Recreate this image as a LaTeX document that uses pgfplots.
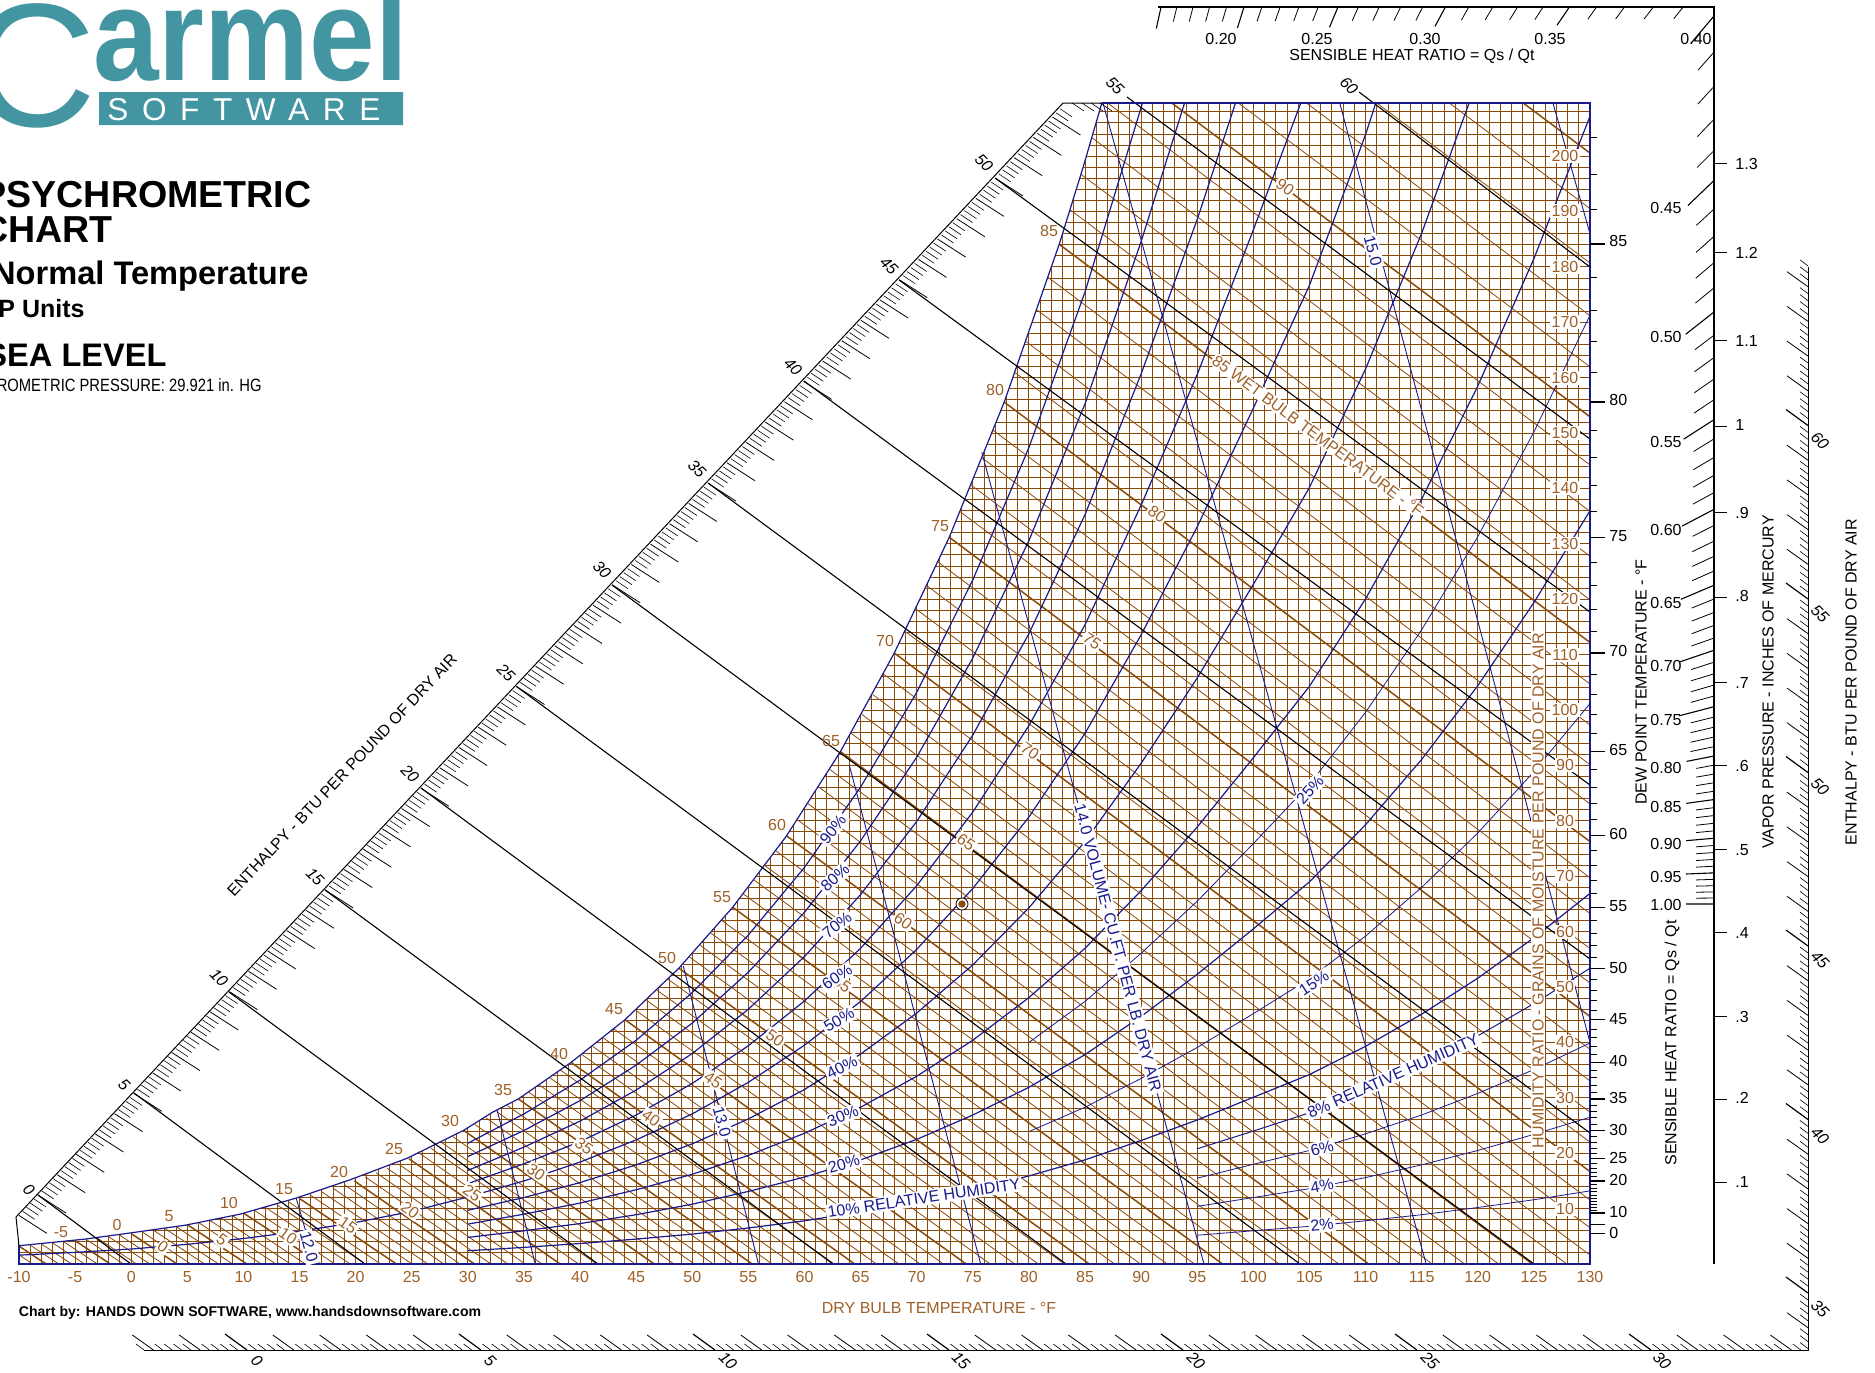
\documentclass[border=0pt]{standalone}
\usepackage{pgfplots}
\pgfplotsset{compat=1.18}
\usepackage{fontspec}
\setmainfont{Liberation Sans}
\definecolor{gridbrown}{HTML}{8A4A08}
\definecolor{labbrown}{HTML}{9E6028}
\definecolor{navy}{HTML}{1A1A8C}
\definecolor{logoteal}{HTML}{4495A2}

% tick lists for the nomogram scales, in picture pixels
\newcommand\addtick[5]{%
  \pgfmathsetmacro\ex{#1+#3}\pgfmathsetmacro\ey{#2+#4}%
  \xdef#5{#5 (#1,#2)(\ex,\ey)(#1,nan)}}
\newcommand\plotlist[2]{\edef\tmp{\noexpand\addplot[#1] coordinates {#2};}\tmp}
\gdef\tkS{}\gdef\tkM{}\gdef\tkL{}
\gdef\shrS{}\gdef\shrL{}\gdef\dewS{}\gdef\dewL{}

\begin{document}
\begin{tikzpicture}[
  lab/.style={font=\fontsize{8}{9}\selectfont,text=labbrown,fill=white,inner sep=.7pt},
  rh/.style={font=\fontsize{8}{9}\selectfont,text=navy,fill=white,inner sep=.9pt},
  blk/.style={font=\fontsize{8}{9}\selectfont,text=black,inner sep=0pt},
  enth/.style={font=\fontsize{8}{9}\selectfont\itshape,text=black,inner sep=0pt,rotate=-45}]
\useasboundingbox (0,0) rectangle (937.5pt,686pt);
\clip (0,0) rectangle (937.5pt,686pt);

% enthalpy scale: bottom and right
\foreach \i in {-11,...,323}{
  \pgfmathtruncatemacro\mf{mod(\i+1000,5)}
  \pgfmathtruncatemacro\mt{mod(\i+1000,25)}
  \ifnum\i<167
    \pgfmathsetmacro\bx{247+9.36*\i}\def\by{1350}
  \else
    \def\bx{1808}\pgfmathsetmacro\by{1293-6.94*(\i-175)}
  \fi
  \ifnum\mt=0 \addtick{\bx}{\by}{-22}{-16}{\tkL}
  \else\ifnum\mf=0 \addtick{\bx}{\by}{-21}{-15}{\tkM}
  \else \addtick{\bx}{\by}{-8}{-6}{\tkS}\fi\fi
}
% enthalpy scale: diagonal
\foreach \i in {-5,...,267}{
  \pgfmathtruncatemacro\mf{mod(\i+1000,5)}
  \pgfmathsetmacro\bx{38+3.828*\i}\pgfmathsetmacro\by{1195-4.068*\i}
  \ifnum\mf=0 \addtick{\bx}{\by}{28}{18}{\tkM}
  \else \addtick{\bx}{\by}{12}{8}{\tkS}\fi
}
\foreach \bx in {1072,1082,1091,1100}{\addtick{\bx}{103}{12}{8}{\tkS}}
% sensible heat ratio, right side
\foreach \i in {40,...,100}{
  \pgfmathtruncatemacro\mf{mod(\i,5)}
  \pgfmathsetmacro\by{904-592*((100-\i)/\i)}
  \pgfmathsetmacro\ang{atan2(904-\by,752)}
  \ifnum\i<80 \ifnum\mf=0 \def\len{36}\else\def\len{24}\fi
  \else \ifnum\mf=0 \def\len{28}\else\def\len{18}\fi\fi
  \pgfmathsetmacro\ddx{-\len*cos(\ang)}\pgfmathsetmacro\ddy{\len*sin(\ang)}
  \ifnum\mf=0 \addtick{1714}{\by}{\ddx}{\ddy}{\shrL}
  \else \addtick{1714}{\by}{\ddx}{\ddy}{\shrS}\fi
}
% sensible heat ratio, top side
\foreach \i in {15,...,39}{
  \pgfmathtruncatemacro\mf{mod(\i,5)}
  \pgfmathsetmacro\bx{962+1128*(\i/(100-\i))}
  \pgfmathsetmacro\ang{atan2(897,\bx-962)}
  \ifnum\mf=0 \def\len{22}\else\def\len{15}\fi
  \pgfmathsetmacro\ddx{-\len*cos(\ang)}\pgfmathsetmacro\ddy{\len*sin(\ang)}
  \ifnum\mf=0 \addtick{\bx}{7}{\ddx}{\ddy}{\shrL}
  \else \addtick{\bx}{7}{\ddx}{\ddy}{\shrS}\fi
}
% dew point ticks on the right edge, humidity ratio of each degree
\foreach \w in {9.67,10.17,10.69,11.24,11.82,12.4,13.01,13.65,14.31,15.72,16.48,17.28,18.11,19.92,20.9,21.9,23,25.2,26.4,27.5,28.6,31,32.3,33.6,35,37.8,39.3,40.8,42.4,45.8,47.6,49.4,51.4,55.4,57.5,59.7,62,66.8,69.3,71.9,74.6,80.2,83.1,86.1,89.3,95.8,99.2,102.8,106.5,114.2,118.2,122.4,126.7,135.8,140.6,145.5,150.5,160.9,166.5,172.2,178.1,190.3,196.7,203.3}{
  \pgfmathsetmacro\by{1264-5.54*\w}\addtick{1590}{\by}{7}{0}{\dewS}}
\foreach \w in {5.48,7.11,9.2,15,19,24.1,29.8,36.4,44.1,53.4,64.4,77.3,92.5,110.3,131.2,155.6,184.1}{
  \pgfmathsetmacro\by{1264-5.54*\w}\addtick{1590}{\by}{15}{0}{\dewL}}

% ---- chart proper: dry bulb in F, humidity ratio in grains
\begin{axis}[
  at={(9.5pt,54pt)},anchor=south west,scale only axis,
  width=785.5pt,height=580.5pt,
  xmin=-10,xmax=130,ymin=0,ymax=209.6,
  axis line style={draw=none},
  unbounded coords=jump,
  xtick={-10,-5,...,130},minor x tick num=4,
  xticklabels={-10,-5,0,5,10,15,20,25,30,35,40,45,50,55,60,65,70,75,80,85,90,95,100,105,110,115,120,125,130},
  xticklabel style={font=\fontsize{8}{9}\selectfont,text=labbrown,yshift=-.2pt},
  ytick={0,2,...,208},yticklabels={},
  major tick length=0pt,minor tick length=0pt,
  xmajorgrids,xminorgrids,ymajorgrids,
  grid style={gridbrown,line width=.5pt},
  minor grid style={gridbrown,line width=.5pt},
]
% white above the saturation curve
\addplot[fill=white,draw=none] coordinates {(-11,3.3)(-10,3.3)(-4.1,4.5)(-0.1,5.6)(4.8,7.0)(9.7,9.0)(14.7,11.9)(19.5,15.2)(24.6,19.1)(27.3,21.8)(29.6,24.1)(32.2,27.4)(34.5,29.8)(39.2,36.4)(44,44.1)(48.8,53.4)(53.6,64.4)(58.4,77.3)(63.2,92.5)(68,110.3)(72.9,131.2)(77.8,155.6)(82.7,184.1)(84.8,197.8)(86.5,209.6)(86.5,215)(-11,215)(-11,3.3)};

% wet bulb, every degree
\addplot[gridbrown,line width=.4pt] coordinates {
(-11,3.07)(-8.8,0)(0,nan)(-9,3.4)(-6.46,0)(0,nan)(-8,3.6)(-5.31,0)(0,nan)(-7,3.8)(-4.16,0)(0,nan)(-6,4)(-3.01,0)(0,nan)
(-4,4.43)(-.69,0)(0,nan)(-3,4.66)(.48,0)(0,nan)(-2,4.91)(1.66,0)(0,nan)(-1,5.17)(2.86,0)(0,nan)
(1,5.77)(5.31,0)(0,nan)(2,6.08)(6.54,0)(0,nan)(3,6.41)(7.78,0)(0,nan)(4,6.75)(9.04,0)(0,nan)
(6,7.49)(11.59,0)(0,nan)(7,7.89)(12.89,0)(0,nan)(8,8.31)(14.2,0)(0,nan)(9,8.74)(15.52,0)(0,nan)
(11,9.67)(18.16,0)(0,nan)(12,10.17)(19.51,0)(0,nan)(13,10.69)(20.86,0)(0,nan)(14,11.24)(22.23,0)(0,nan)
(16,12.4)(25.02,0)(0,nan)(17,13.01)(26.43,0)(0,nan)(18,13.65)(27.86,0)(0,nan)(19,14.31)(29.29,0)(0,nan)
(20.86,15.72)(32.06,0)(0,nan)(21.83,16.48)(33.56,0)(0,nan)(22.81,17.28)(35.11,0)(0,nan)(23.78,18.11)(36.62,0)(0,nan)
(25.74,19.92)(39.87,0)(0,nan)(26.71,20.9)(41.48,0)(0,nan)(27.69,21.9)(43.17,0)(0,nan)(28.66,23)(44.91,0)(0,nan)
(30.62,25.2)(48.37,0)(0,nan)(31.6,26.4)(50.19,0)(0,nan)(32.57,27.5)(51.87,0)(0,nan)(33.53,28.6)(53.6,0)(0,nan)
(35.44,31)(57.12,0)(0,nan)(36.38,32.3)(58.97,0)(0,nan)(37.32,33.6)(60.73,0)(0,nan)(38.26,35)(62.65,0)(0,nan)
(40.16,37.8)(66.41,0)(0,nan)(41.12,39.3)(68.41,0)(0,nan)(42.08,40.8)(70.32,0)(0,nan)(43.04,42.4)(72.38,0)(0,nan)
(44.96,45.8)(76.55,0)(0,nan)(45.92,47.6)(78.75,0)(0,nan)(46.88,49.4)(80.83,0)(0,nan)(47.84,51.4)(83.17,0)(0,nan)
(49.76,55.4)(87.63,0)(0,nan)(50.72,57.5)(89.94,0)(0,nan)(51.68,59.7)(92.32,0)(0,nan)(52.64,62)(94.76,0)(0,nan)
(54.56,66.8)(99.76,0)(0,nan)(55.52,69.3)(102.31,0)(0,nan)(56.48,71.9)(104.93,0)(0,nan)(57.44,74.6)(107.61,0)(0,nan)
(59.36,80.2)(113.11,0)(0,nan)(60.32,83.1)(115.94,0)(0,nan)(61.28,86.1)(118.83,0)(0,nan)(62.24,89.3)(121.85,0)(0,nan)
(64.16,95.8)(127.94,0)(0,nan)(65.12,99.2)(131.08,0)(0,nan)(66.08,102.8)(134.34,0)(0,nan)(67.04,106.5)(137.66,0)(0,nan)
(68.98,114.2)(144.56,0)(0,nan)(69.96,118.2)(148.13,0)(0,nan)(70.94,122.4)(151.84,0)(0,nan)(71.92,126.7)(155.61,0)(0,nan)
(73.88,135.8)(163.46,0)(0,nan)(74.86,140.6)(167.54,0)(0,nan)(75.84,145.5)(171.69,0)(0,nan)(76.82,150.5)(175.9,0)(0,nan)
(78.78,160.9)(184.64,0)(0,nan)(79.76,166.5)(189.3,0)(0,nan)(80.74,172.2)(194.03,0)(0,nan)(81.72,178.1)(198.89,0)(0,nan)
(83.68,190.3)(208.88,0)(0,nan)(84.66,196.7)(214.07,0)(0,nan)(85.64,203.3)(219.39,0)(0,nan)(86.62,210.2)(224.91,0)(0,nan)
(88.6,224.9)(236.56,0)(0,nan)(89.6,232.6)(242.63,0)(0,nan)(90.6,240.6)(248.89,0)(0,nan)(91.6,248.9)(255.35,0)(0,nan)
(93.6,266)(268.6,0)(0,nan)(94.6,275.4)(275.8,0)(0,nan)(95.6,285)(283.1,0)};
% wet bulb, every fifth degree
\addplot[gridbrown,line width=.75pt] coordinates {
(-10,3.23)(-7.59,0)(0,nan)(-5,4.21)(-1.86,0)(0,nan)(0,5.48)(4.09,0)(0,nan)(5,7.11)(10.31,0)(0,nan)(10,9.2)(16.87,0)(0,nan)
(15,11.82)(23.63,0)(0,nan)(19.88,15)(30.59,0)(0,nan)(24.76,18.99)(38.23,0)(0,nan)(29.64,24.1)(46.61,0)(0,nan)
(34.5,29.8)(55.34,0)(0,nan)(39.2,36.4)(64.48,0)(0,nan)(44,44.1)(74.41,0)(0,nan)(48.8,53.4)(85.38,0)(0,nan)
(53.6,64.4)(97.26,0)(0,nan)(58.4,77.3)(110.28,0)(0,nan)(63.2,92.5)(124.87,0)(0,nan)(68,110.3)(141.05,0)(0,nan)
(72.9,131.2)(159.5,0)(0,nan)(77.8,155.6)(180.17,0)(0,nan)(82.7,184.1)(203.82,0)(0,nan)(87.6,217.4)(230.63,0)(0,nan)
(92.6,257.4)(261.94,0)};

% saturation curve
\addplot[navy,line width=.6pt] coordinates {(-10,3.3)(-4.1,4.5)(-0.1,5.6)(4.8,7.0)(9.7,9.0)(14.7,11.9)(19.5,15.2)(24.6,19.1)(27.3,21.8)(29.6,24.1)(32.2,27.4)(34.5,29.8)(39.2,36.4)(44,44.1)(48.8,53.4)(53.6,64.4)(58.4,77.3)(63.2,92.5)(68,110.3)(72.9,131.2)(77.8,155.6)(82.7,184.1)(84.8,197.8)(86.5,209.6)};
% relative humidity
\addplot[navy,line width=.6pt] coordinates {(30,21.8)(35,27.1)(40,33.2)(45,40.4)(50,49)(55,59.4)(60,71.6)(65,86.1)(70,103.2)(75,123.5)(80,147.4)(85,175.5)(90,208.8)(95,245.5)};
\addplot[navy,line width=.6pt] coordinates {(30,19.4)(35,24.1)(40,29.5)(45,35.9)(50,43.5)(55,52.7)(60,63.5)(65,76.4)(70,91.5)(75,109.4)(80,130.6)(85,155.3)(90,184.6)(95,216.9)};
\addplot[navy,line width=.6pt] coordinates {(30,16.9)(35,21.1)(40,25.8)(45,31.4)(50,38)(55,46)(60,55.5)(65,66.7)(70,79.9)(75,95.5)(80,113.8)(85,135.3)(90,160.7)(95,188.6)(100,219.4)};
\addplot[navy,line width=.6pt] coordinates {(30,14.5)(35,18.1)(40,22.1)(45,26.9)(50,32.6)(55,39.4)(60,47.5)(65,57)(70,68.3)(75,81.6)(80,97.2)(85,115.4)(90,137)(95,160.6)(100,186.7)(105,213.8)};
\addplot[navy,line width=.6pt] coordinates {(-10,1.6)(-5,2.1)(0,2.7)(5,3.55)(10,4.6)(15,5.9)(20,7.5)(25,9.5)(30,12.1)(35,15)(40,18.4)(45,22.4)(50,27.1)(55,32.8)(60,39.5)(65,47.4)(70,56.8)(75,67.8)(80,80.7)(85,95.8)(90,113.6)(95,133.1)(100,154.5)(105,176.7)(110,203.9)(115,235.2)};
\addplot[navy,line width=.6pt] coordinates {(30,9.7)(35,12)(40,14.7)(45,17.9)(50,21.7)(55,26.2)(60,31.5)(65,37.9)(70,45.3)(75,54)(80,64.3)(85,76.3)(90,90.4)(95,105.8)(100,122.7)(105,140.2)(110,161.6)(115,186.1)(120,213.9)};
\addplot[navy,line width=.6pt] coordinates {(30,7.2)(35,9)(40,11)(45,13.4)(50,16.2)(55,19.6)(60,23.6)(65,28.3)(70,33.9)(75,40.4)(80,48.1)(85,57)(90,67.4)(95,78.9)(100,91.4)(105,104.3)(110,120.1)(115,138.1)(120,158.5)(125,181.5)(130,207.2)};
\addplot[navy,line width=.4pt] coordinates {(80,40)(85,47.4)(90,56.1)(95,65.5)(100,75.9)(105,86.6)(110,99.6)(115,114.5)(120,131.3)(125,150.2)(130,171.3)};
\addplot[navy,line width=.6pt] coordinates {(30,4.8)(35,6)(40,7.3)(45,8.9)(50,10.8)(55,13.1)(60,15.7)(65,18.8)(70,22.5)(75,26.9)(80,31.9)(85,37.8)(90,44.7)(95,52.3)(100,60.5)(105,69)(110,79.3)(115,91.1)(120,104.4)(125,119.4)(130,136)};
\addplot[navy,line width=.4pt] coordinates {(80,23.9)(85,28.3)(90,33.5)(95,39.1)(100,45.2)(105,51.5)(110,59.2)(115,68)(120,77.8)(125,88.9)(130,101.2)};
\addplot[navy,line width=.6pt] coordinates {(30,2.4)(35,3)(40,3.7)(45,4.5)(50,5.4)(55,6.5)(60,7.8)(65,9.4)(70,11.2)(75,13.4)(80,15.9)(85,18.8)(90,22.3)(95,26)(100,30.1)(105,34.2)(110,39.3)(115,45.1)(120,51.6)(125,58.9)(130,66.9)};
\addplot[navy,line width=.5pt] coordinates {(95,20.8)(100,24)(105,27.3)(110,31.4)(115,36)(120,41.2)(125,47)(130,53.4)};
\addplot[navy,line width=.4pt] coordinates {(95,15.5)(100,18)(105,20.5)(110,23.5)(115,26.9)(120,30.8)(125,35.1)(130,39.9)};
\addplot[navy,line width=.4pt] coordinates {(95,10.4)(100,12)(105,13.6)(110,15.6)(115,17.9)(120,20.5)(125,23.4)(130,26.5)};
\addplot[navy,line width=.4pt] coordinates {(95,5.2)(100,6)(105,6.8)(110,7.8)(115,8.9)(120,10.2)(125,11.6)(130,13.2)};
% specific volume
\addplot[navy,line width=.45pt] coordinates {(14.7,11.9)(16.4,0)};
\addplot[navy,line width=.45pt] coordinates {(32.6,27.9)(36,0)};
\addplot[navy,line width=.45pt] coordinates {(49.2,53.8)(55.9,0)};
\addplot[navy,line width=.45pt] coordinates {(64,90)(75.7,0)};
\addplot[navy,line width=.45pt] coordinates {(75.8,146.5)(95.6,0)};
\addplot[navy,line width=.45pt] coordinates {(86.6,209.6)(115.4,0)};
\addplot[navy,line width=.45pt] coordinates {(107.7,209.6)(130,40)};
\addplot[navy,line width=.45pt] coordinates {(126.7,209.6)(130,186)};
\end{axis}

% ---- everything else, in picture pixels
\begin{axis}[
  at={(0,0)},anchor=south west,scale only axis,hide axis,
  width=937.5pt,height=686pt,
  xmin=0,xmax=1875,ymin=0,ymax=1372,y dir=reverse,
  clip=false,unbounded coords=jump]
% left grid line above the curve
\addplot[white,line width=1.2pt] coordinates {(19,100)(19,1244)};
% enthalpy lines
\addplot[black,line width=.55pt] coordinates {(38,1195)(131,1264)(0,nan)(134,1093)(365,1264)(0,nan)(229,992)(598,1264)(0,nan)(325,890)(833,1264)(0,nan)(421,788)(1066,1264)(0,nan)(516.5,686.5)(1300,1264)(0,nan)(612,585)(1534,1264)(0,nan)
(708,483)(1590,1133)(0,nan)(804,381)(1590,959)(0,nan)(899,280)(1590,785)(0,nan)(995,178)(1590,612)(0,nan)(1127,97)(1590,439)(0,nan)(1359,92)(1590,267)};
% plot border
\addplot[navy,line width=1pt] coordinates {(19,1246)(19,1264)(1590,1264)(1590,103)(1102,103)};
% scale lines
\addplot[black,line width=.5pt] coordinates {(19,1246)(16,1217)(1063,103)(1102,103)};
\addplot[black,line width=.5pt] coordinates {(144,1350)(1808,1350)(1808,267)};
\addplot[black,line width=.6pt] coordinates {(1158,7)(1714,7)(1714,1264)};
\plotlist{black,line width=.3pt}{\tkS}
\plotlist{black,line width=.4pt}{\tkM}
\plotlist{black,line width=.6pt}{\tkL}
\plotlist{black,line width=.4pt}{\shrS}
\plotlist{black,line width=.55pt}{\shrL}
\plotlist{black,line width=.5pt}{\dewS}
\plotlist{black,line width=.6pt}{\dewL}
% vapor pressure ticks
\addplot[black,line width=.5pt] coordinates {(1714,1182)(1727,1182)(0,nan)(1714,1099)(1727,1099)(0,nan)(1714,1016)(1727,1016)(0,nan)(1714,932)(1727,932)(0,nan)(1714,849)(1727,849)(0,nan)(1714,765)(1727,765)(0,nan)(1714,682)(1727,682)(0,nan)(1714,597)(1727,597)(0,nan)(1714,512)(1727,512)(0,nan)(1714,426)(1727,426)(0,nan)(1714,340)(1727,340)(0,nan)(1714,252)(1727,252)(0,nan)(1714,163)(1727,163)};
% protractor centre
\addplot[only marks,mark=*,mark size=3pt,mark options={fill=white,draw=black,line width=.4pt}] coordinates {(962,904)};
\addplot[only marks,mark=*,mark size=1.6pt,mark options={fill=gridbrown,draw=gridbrown}] coordinates {(962,904)};
% logo
\addplot[fill=logoteal,draw=none] coordinates {(99,92)(403,92)(403,125)(99,125)(99,92)};
\node[anchor=base east,inner sep=0pt,text=logoteal,font=\fontsize{88}{95}\selectfont] at (97,126) {C};
\node[anchor=base west,inner sep=0pt,text=logoteal,font=\fontsize{65.5}{70}\selectfont\bfseries,xscale=.9] at (93,80) {armel};
\node[anchor=base west,inner sep=0pt,text=white,font=\fontsize{15.8}{18}\selectfont] at (107,120) {\addfontfeature{LetterSpace=43}SOFTWARE};
% titles
\node[anchor=base east,inner sep=0pt,font=\fontsize{18.8}{20}\selectfont\bfseries] at (312,207) {PSYCHROMETRIC};
\node[anchor=base east,inner sep=0pt,font=\fontsize{18.8}{20}\selectfont\bfseries] at (113,242) {CHART};
\node[anchor=base east,inner sep=0pt,font=\fontsize{16.3}{18}\selectfont\bfseries] at (309,284) {Normal Temperature};
\node[anchor=base east,inner sep=0pt,font=\fontsize{12.5}{14}\selectfont\bfseries] at (85,317) {IP Units};
\node[anchor=base east,inner sep=0pt,font=\fontsize{16.3}{18}\selectfont\bfseries] at (167,366) {SEA LEVEL};
\node[anchor=base east,inner sep=0pt,font=\fontsize{8.9}{10}\selectfont,xscale=.83] at (262,391) {BAROMETRIC PRESSURE: 29.921 in. HG};
\node[inner sep=0pt,font=\fontsize{7.04}{8}\selectfont\bfseries] at (250,1313) {Chart by: HANDS DOWN SOFTWARE, www.handsdownsoftware.com};
% axis titles
\node[blk,rotate=46.6] at (342,775) {ENTHALPY - BTU PER POUND OF DRY AIR};
\node[blk,rotate=90] at (1851,682) {ENTHALPY - BTU PER POUND OF DRY AIR};
\node[blk,rotate=90] at (1768,682) {VAPOR PRESSURE - INCHES OF MERCURY};
\node[blk,rotate=90] at (1672,1043) {SENSIBLE HEAT RATIO = Qs / Qt};
\node[blk] at (1412,56) {SENSIBLE HEAT RATIO = Qs / Qt};
\node[blk,rotate=90] at (1641,682) {DEW POINT TEMPERATURE - °F};
\node[blk,rotate=90,text=labbrown,fill=white,inner sep=.8pt] at (1538,891) {HUMIDITY RATIO - GRAINS OF MOISTURE PER POUND OF DRY AIR};
\node[blk,text=labbrown] at (939,1308) {DRY BULB TEMPERATURE - °F};
% humidity ratio numbers
\node[lab] at (1565,1209) {10};\node[lab] at (1565,1153) {20};\node[lab] at (1565,1098) {30};\node[lab] at (1565,1042) {40};
\node[lab] at (1565,987) {50};\node[lab] at (1565,932) {60};\node[lab] at (1565,876) {70};\node[lab] at (1565,821) {80};
\node[lab] at (1565,765) {90};\node[lab] at (1565,710) {100};\node[lab] at (1565,655) {110};\node[lab] at (1565,599) {120};
\node[lab] at (1565,544) {130};\node[lab] at (1565,488) {140};\node[lab] at (1565,433) {150};\node[lab] at (1565,378) {160};
\node[lab] at (1565,322) {170};\node[lab] at (1565,267) {180};\node[lab] at (1565,211) {190};\node[lab] at (1565,156) {200};
% dew point numbers
\foreach \t/\y in {0/1233,10/1212,20/1180,25/1158,30/1130,35/1098,40/1061,45/1019,50/968,55/906,60/834,65/750,70/651,75/536,80/400,85/241}{
  \edef\tmp{\noexpand\node[blk,anchor=west] at (1609,\y) {\t};}\tmp}
% vapor pressure numbers
\foreach \t/\y in {.1/1182,.2/1098,.3/1017,.4/933,.5/850,.6/766,.7/683,.8/596,.9/513,1/425,1.1/341,1.2/253,1.3/164}{
  \edef\tmp{\noexpand\node[blk,anchor=west] at (1735,\y) {\t};}\tmp}
% sensible heat ratio numbers
\foreach \t/\y in {0.45/208,0.50/337,0.55/442,0.60/530,0.65/603,0.70/666,0.75/720,0.80/768,0.85/807,0.90/844,0.95/877,1.00/905}{
  \edef\tmp{\noexpand\node[blk,anchor=east] at (1682,\y) {\t};}\tmp}
\node[blk,anchor=east] at (1712,39) {0.40};
\node[blk] at (1221,39) {0.20};\node[blk] at (1317,39) {0.25};\node[blk] at (1425,39) {0.30};\node[blk] at (1550,39) {0.35};
% enthalpy numbers
\node[enth] at (29,1190) {0};\node[enth] at (124,1085) {5};\node[enth] at (219,978) {10};\node[enth] at (315,877) {15};
\node[enth] at (410,774) {20};\node[enth] at (506,673) {25};\node[enth] at (602,570) {30};\node[enth] at (697,469) {35};
\node[enth] at (793,367) {40};\node[enth] at (889,266) {45};\node[enth] at (984,163) {50};\node[enth] at (1115,86) {55};\node[enth] at (1349,86) {60};
\node[enth] at (257,1361) {0};\node[enth] at (490,1361) {5};\node[enth] at (728,1361) {10};\node[enth] at (961,1361) {15};
\node[enth] at (1196,1361) {20};\node[enth] at (1430,1361) {25};\node[enth] at (1662,1361) {30};
\node[enth] at (1820,1309) {35};\node[enth] at (1820,1136) {40};\node[enth] at (1820,960) {45};\node[enth] at (1820,787) {50};\node[enth] at (1820,614) {55};\node[enth] at (1820,441) {60};
% wet bulb numbers on the saturation curve
\foreach \t/\x/\y in {-5/61/1232,0/117/1225,5/169/1216,10/229/1203,15/284/1189,20/339/1172,25/394/1149,30/450/1121,35/503/1090,40/559/1054,45/614/1009,50/667/958,55/722/897,60/777/825,65/831/741,70/885/641,75/940/526,80/995/390,85/1049/231}{
  \edef\tmp{\noexpand\node[blk,text=labbrown] at (\x,\y) {\t};}\tmp}
% wet bulb numbers on their lines
\foreach \t/\x/\y in {0/163/1247,5/222/1240,10/288/1236,15/348/1225,20/410/1210,25/472/1193,30/536/1172,35/584/1146,40/651/1118,45/713/1080,50/775/1038,55/842/984,60/903/921,65/966/842,70/1030/751,75/1092/641,80/1157/514,90/1285/187}{
  \edef\tmp{\noexpand\node[lab,rotate=-36] at (\x,\y) {\t};}\tmp}
\node[lab,rotate=-36.6] at (1318,436) {85 WET BULB TEMPERATURE - °F};
% relative humidity labels
\node[rh,rotate=52] at (833,829) {90\%};\node[rh,rotate=42] at (835,878) {80\%};\node[rh,rotate=38] at (837,925) {70\%};
\node[rh,rotate=33] at (837,977) {60\%};\node[rh,rotate=30] at (839,1020) {50\%};\node[rh,rotate=27] at (842,1067) {40\%};
\node[rh,rotate=22] at (843,1116) {30\%};\node[rh,rotate=16] at (844,1164) {20\%};
\node[rh,rotate=8.4] at (924,1198) {10\% RELATIVE HUMIDITY};
\node[rh,rotate=48] at (1310,790) {25\%};\node[rh,rotate=33] at (1314,983) {15\%};
\node[rh,rotate=24] at (1393,1076) {8\% RELATIVE HUMIDITY};
\node[rh,rotate=15] at (1322,1148) {6\%};\node[rh,rotate=10] at (1322,1186) {4\%};\node[rh,rotate=6] at (1322,1225) {2\%};
% volume labels
\node[rh,rotate=-75] at (309,1247) {12.0};\node[rh,rotate=-75] at (722,1122) {13.0};\node[rh,rotate=-75] at (1373,251) {15.0};
\node[rh,rotate=-75] at (1118,948) {14.0 VOLUME- CU.FT. PER LB. DRY AIR};
\end{axis}
\end{tikzpicture}
\end{document}
